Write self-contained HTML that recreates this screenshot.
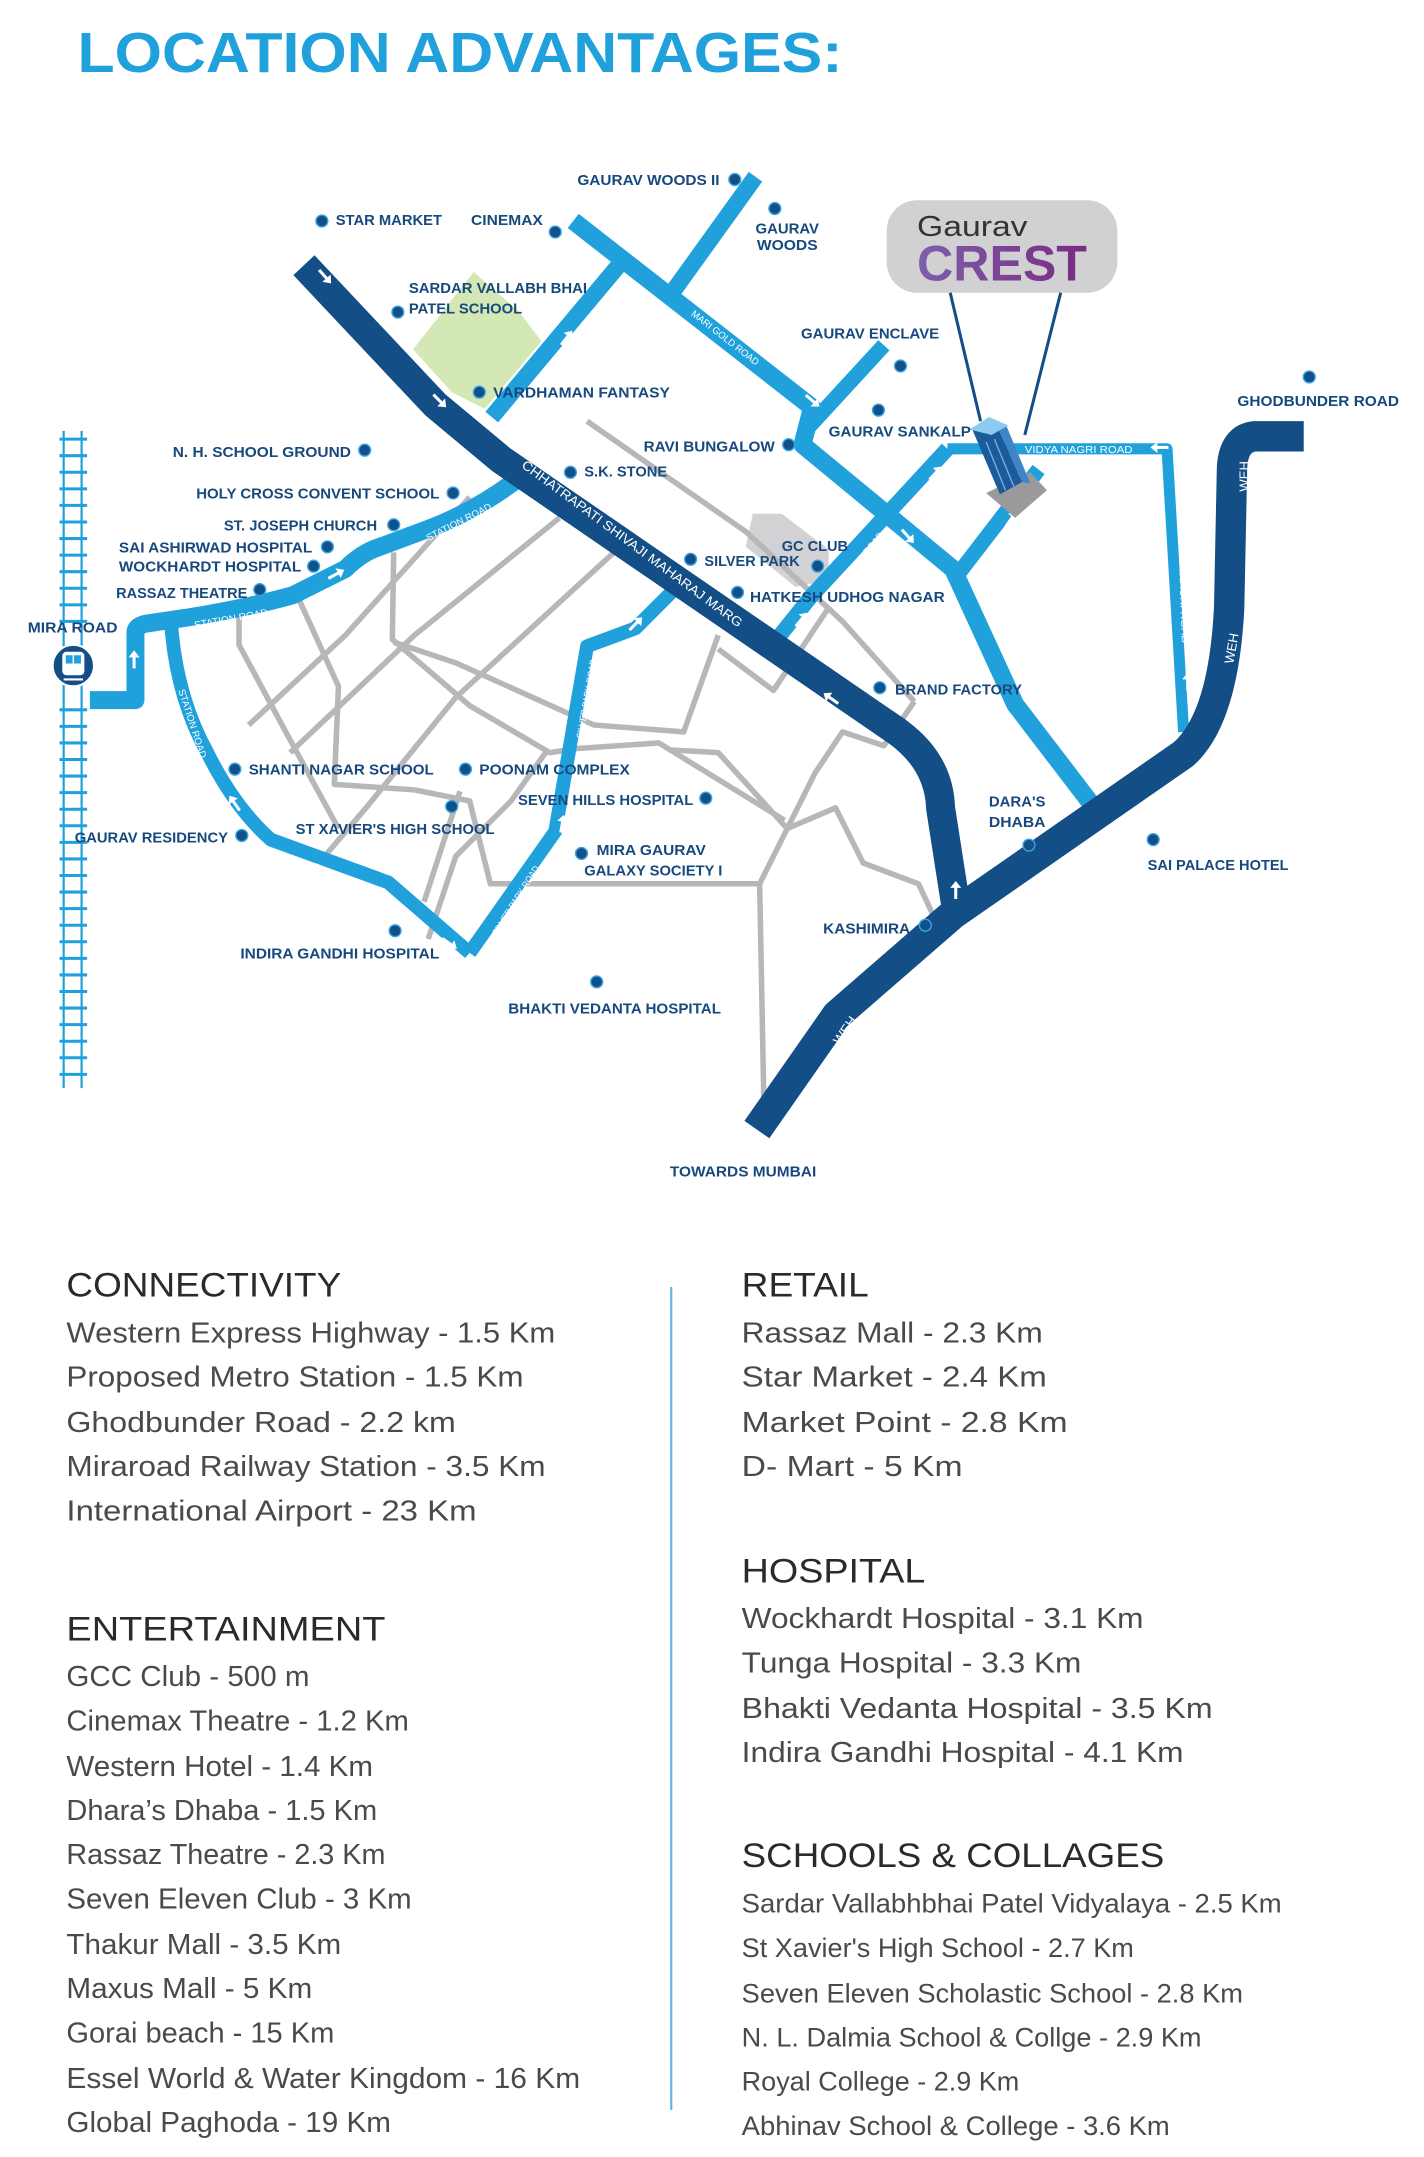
<!DOCTYPE html>
<html><head><meta charset="utf-8"><style>
html,body{margin:0;padding:0;background:#fff}
svg{display:block}
.lb{font-family:"Liberation Sans Narrow","Liberation Sans",sans-serif;font-weight:bold;font-size:11px;fill:#17497e}
.rl{font-family:"Liberation Sans",sans-serif;font-size:7px;fill:#fff}
.rd{font-family:"Liberation Sans",sans-serif;font-size:9.5px;fill:#fff}
.h{font-family:"Liberation Sans",sans-serif;font-size:25px;fill:#2a2a2a}
.t{font-family:"Liberation Sans",sans-serif;font-size:21px;fill:#4a4a4a}
.s{font-family:"Liberation Sans",sans-serif;font-size:19.5px;fill:#4a4a4a}
</style></head><body>
<svg width="1424" height="2157" viewBox="0 0 1031 1562" xmlns="http://www.w3.org/2000/svg">
<defs>
<linearGradient id="pg" x1="0" x2="1"><stop offset="0" stop-color="#7d5fab"/><stop offset="1" stop-color="#7a2a80"/></linearGradient>
<g id="ar"><path d="M-6,0 L3,0" stroke="#fff" stroke-width="2.2"/><path d="M2,-4 L7,0 L2,4 Z" fill="#fff"/></g>
</defs>
<text x="56" y="52" textLength="554" lengthAdjust="spacingAndGlyphs" style="font-family:'Liberation Sans',sans-serif;font-weight:bold;font-size:41px;fill:#21a1dc">LOCATION ADVANTAGES:</text>

<polygon points="299,253 343,197 376,226 392,247 351,296 327,284" fill="#d3e8b4"/>
<polygon points="545,372 566,372 600,398 600,420 576,425 540,396" fill="#d2d2d4"/>

<g fill="none" stroke="#b6b7b9" stroke-width="4" stroke-linejoin="round">
<path d="M425,305 L540,385 L610,450 L662,508"/>
<path d="M662,508 L640,540 L610,530 L590,560 L570,600 L550,640 L553,795"/>
<path d="M570,600 L605,585 L625,625 L665,640 L680,672"/>
<path d="M485,543 L520,545 L570,600"/>
<path d="M450,395 L330,505 L265,585 L235,620"/>
<path d="M405,375 L300,460 L210,545"/>
<path d="M340,360 L250,460 L180,525"/>
<path d="M520,460 L495,530 L430,525 L330,480 L285,465"/>
<path d="M285,400 L284,463 L340,511 L398,545 L418,542 L477,538 L568,594"/>
<path d="M215,431 L245,497 L242,568 L300,572"/>
<path d="M173,446 L173,467 L209,534 L245,600"/>
<path d="M300,572 L340,580 L355,640 L440,640 L550,640"/>
<path d="M333,573 L307,653"/>
<path d="M600,440 L560,500 L520,470"/>
<path d="M395,545 L370,580 L330,620 L310,680"/>
</g>

<g stroke="#21a1dc" stroke-width="1.6">
<line x1="46" y1="312" x2="46" y2="788"/><line x1="59" y1="312" x2="59" y2="788"/>
</g>
<path d="M43,318 H63 M43,330 H63 M43,342 H63 M43,354 H63 M43,366 H63 M43,378 H63 M43,390 H63 M43,402 H63 M43,414 H63 M43,426 H63 M43,438 H63 M43,450 H63 M43,514 H63 M43,526 H63 M43,538 H63 M43,550 H63 M43,562 H63 M43,574 H63 M43,586 H63 M43,598 H63 M43,610 H63 M43,622 H63 M43,634 H63 M43,646 H63 M43,658 H63 M43,670 H63 M43,682 H63 M43,694 H63 M43,706 H63 M43,718 H63 M43,730 H63 M43,742 H63 M43,754 H63 M43,766 H63 M43,778 H63" stroke="#21a1dc" stroke-width="2.2"/>

<g fill="none" stroke="#21a1dc" stroke-linejoin="round" stroke-linecap="butt">
<path d="M65,507 L98,507 L98,458 Q98,452 110,451 L137,447 Q180,440 212,431 L250,412 Q262,400 275,396 L310,383 Q345,370 380,343" stroke-width="13"/>
<path d="M356,302 L448,192" stroke-width="12"/>
<path d="M415,160 L588,295 L581,322 L690,412 L735,510 L800,595" stroke-width="13"/>
<path d="M547,128 L488,210" stroke-width="12"/>
<path d="M640,250 L583,312" stroke-width="11"/>
<path d="M686,325 L845,325 L857,530" stroke-width="8"/>
<path d="M560,466 L588,431 L686,325" stroke-width="11"/>
<path d="M752,340 L695,414" stroke-width="11"/>
<path d="M490,425 L460,455 L425,468 L402,602 L340,690" stroke-width="10"/>
<path d="M124,454 Q128,505 150,545 Q170,585 196,608 L281,639 L340,690" stroke-width="10"/>
</g>

<g fill="none" stroke="#134f86" stroke-linejoin="round">
<path d="M220,192 L315,293 L363,333 L650,530 Q680,552 681,585 L693,662" stroke-width="21"/>
<path d="M944,316 L908,316 Q892,318 892,342 L890,440 Q886,520 857,546 L690,662 L606,735 L548,818" stroke-width="22"/>
</g>

<use href="#ar" transform="translate(235,200) rotate(48)"/>
<use href="#ar" transform="translate(318,290) rotate(45)"/>
<use href="#ar" transform="translate(410,245) rotate(-52)"/>
<use href="#ar" transform="translate(588,290) rotate(40)"/>
<use href="#ar" transform="translate(243,416) rotate(-28)"/>
<use href="#ar" transform="translate(97,478) rotate(-90)"/>
<use href="#ar" transform="translate(677,343) rotate(-48)"/>
<use href="#ar" transform="translate(580,449) rotate(-50)"/>
<use href="#ar" transform="translate(732,376) rotate(-55)"/>
<use href="#ar" transform="translate(657,388) rotate(48)"/>
<use href="#ar" transform="translate(840,324) rotate(180)"/>
<use href="#ar" transform="translate(860,494) rotate(-90)"/>
<use href="#ar" transform="translate(602,506) rotate(-145)"/>
<use href="#ar" transform="translate(692,645) rotate(-90)"/>
<use href="#ar" transform="translate(460,452) rotate(-45)"/>
<use href="#ar" transform="translate(407,597) rotate(-80)"/>
<use href="#ar" transform="translate(170,582) rotate(-125)"/>
<use href="#ar" transform="translate(325,683) rotate(35)"/>

<text class="rd" transform="translate(377,338) rotate(36.5)" textLength="196" lengthAdjust="spacingAndGlyphs">CHHATRAPATI SHIVAJI MAHARAJ MARG</text>
<text class="rl" transform="translate(500,228) rotate(38)" textLength="60" lengthAdjust="spacingAndGlyphs">MARI GOLD ROAD</text>
<text class="rl" transform="translate(310,392) rotate(-27)" textLength="52" lengthAdjust="spacingAndGlyphs">STATION ROAD</text>
<text class="rl" transform="translate(141,455) rotate(-10)" textLength="54" lengthAdjust="spacingAndGlyphs">STATION ROAD</text>
<text class="rl" transform="translate(605,430) rotate(-50)" textLength="55" lengthAdjust="spacingAndGlyphs">GCC CLUB ROAD</text>
<text class="rl" transform="translate(742,328)" textLength="78" lengthAdjust="spacingAndGlyphs">VIDYA NAGRI ROAD</text>
<text class="rl" transform="translate(852,358) rotate(88)" textLength="108" lengthAdjust="spacingAndGlyphs">SHANTI VIDYA NAGRI ROAD</text>
<text class="rl" transform="translate(129,500) rotate(72)" textLength="52" lengthAdjust="spacingAndGlyphs">STATION ROAD</text>
<text class="rl" transform="translate(226,629) rotate(25)" textLength="54" lengthAdjust="spacingAndGlyphs">STATION ROAD</text>
<text class="rl" transform="translate(422,535) rotate(-80)" textLength="58" lengthAdjust="spacingAndGlyphs">SILVER PARK ROAD</text>
<text class="rl" transform="translate(360,678) rotate(-58)" textLength="58" lengthAdjust="spacingAndGlyphs">SILVER PARK ROAD</text>
<text class="rd" transform="translate(904,356) rotate(-90)" font-size="9">WEH</text>
<text class="rd" transform="translate(893,481) rotate(-80)" font-size="9">WEH</text>
<text class="rd" transform="translate(764,634) rotate(-35)" font-size="9">WEH</text>
<text class="rd" transform="translate(608,757) rotate(-55)" font-size="9">WEH</text>

<circle cx="53" cy="482" r="15" fill="#134f86" stroke="#fff" stroke-width="1.5"/>
<rect x="45" y="472" width="16" height="17" rx="3" fill="#fff"/>
<rect x="47.5" y="474.5" width="5" height="6" fill="#21a1dc"/><rect x="53.5" y="474.5" width="5" height="6" fill="#21a1dc"/>
<path d="M46,492 L60,492" stroke="#fff" stroke-width="1.5"/>

<rect x="642" y="145" width="167" height="67" rx="22" fill="#d1d1d3"/>
<text x="664" y="171" style="font-family:'Liberation Sans',sans-serif;font-size:21px;fill:#333" textLength="80" lengthAdjust="spacingAndGlyphs">Gaurav</text>
<text x="664" y="203" style="font-family:'Liberation Sans',sans-serif;font-weight:bold;font-size:36px;fill:url(#pg)" textLength="123" lengthAdjust="spacingAndGlyphs">CREST</text>
<path d="M688,212 L710,305 M768,212 L742,315" stroke="#134f86" stroke-width="2.2"/>

<polygon points="714,357 746,342 758,355 735,375" fill="#9a9a9c"/>
<polygon points="704,311 720,304 740,349 724,358" fill="#1d5a9a"/>
<polygon points="720,304 729,309 746,350 740,349" fill="#3f86c6"/>
<polygon points="702,311 716,302 730,308 718,315" fill="#8ccaf0"/>
<path d="M714,320 L728,355 M720,318 L734,352" stroke="#6fb2e6" stroke-width="1"/>

<g fill="#12508a" stroke="#3aa4e0" stroke-width="1">
<circle cx="532" cy="130" r="4.3"/><circle cx="233" cy="160" r="4.3"/><circle cx="402" cy="168" r="4.3"/>
<circle cx="561" cy="151" r="4.3"/><circle cx="288" cy="226" r="4.3"/><circle cx="652" cy="265" r="4.3"/>
<circle cx="347" cy="284" r="4.3"/><circle cx="948" cy="273" r="4.3"/><circle cx="636" cy="297" r="4.3"/>
<circle cx="571" cy="322" r="4.3"/><circle cx="264" cy="326" r="4.3"/><circle cx="413" cy="342" r="4.3"/>
<circle cx="328" cy="357" r="4.3"/><circle cx="285" cy="380" r="4.3"/><circle cx="237" cy="396" r="4.3"/>
<circle cx="227" cy="410" r="4.3"/><circle cx="188" cy="427" r="4.3"/><circle cx="592" cy="410" r="4.3"/>
<circle cx="500" cy="405" r="4.3"/><circle cx="534" cy="429" r="4.3"/><circle cx="637" cy="498" r="4.3"/>
<circle cx="170" cy="557" r="4.3"/><circle cx="337" cy="557" r="4.3"/><circle cx="511" cy="578" r="4.3"/>
<circle cx="327" cy="584" r="4.3"/><circle cx="175" cy="605" r="4.3"/><circle cx="835" cy="608" r="4.3"/>
<circle cx="745" cy="612" r="4.3"/>
<circle cx="421" cy="618" r="4.3"/><circle cx="670" cy="670" r="4.3"/><circle cx="286" cy="674" r="4.3"/>
<circle cx="432" cy="711" r="4.3"/>
</g>

<g class="lb">
<text x="418" y="134" textLength="103" lengthAdjust="spacingAndGlyphs">GAURAV WOODS II</text>
<text x="243" y="163" textLength="77" lengthAdjust="spacingAndGlyphs">STAR MARKET</text>
<text x="341" y="163" textLength="52" lengthAdjust="spacingAndGlyphs">CINEMAX</text>
<text x="547" y="169" textLength="46" lengthAdjust="spacingAndGlyphs">GAURAV</text>
<text x="548" y="181" textLength="44" lengthAdjust="spacingAndGlyphs">WOODS</text>
<text x="296" y="212" textLength="129" lengthAdjust="spacingAndGlyphs">SARDAR VALLABH BHAI</text>
<text x="296" y="227" textLength="82" lengthAdjust="spacingAndGlyphs">PATEL SCHOOL</text>
<text x="580" y="245" textLength="100" lengthAdjust="spacingAndGlyphs">GAURAV ENCLAVE</text>
<text x="357" y="288" textLength="128" lengthAdjust="spacingAndGlyphs">VARDHAMAN FANTASY</text>
<text x="896" y="294" textLength="117" lengthAdjust="spacingAndGlyphs">GHODBUNDER ROAD</text>
<text x="600" y="316" textLength="103" lengthAdjust="spacingAndGlyphs">GAURAV SANKALP</text>
<text x="466" y="327" textLength="95" lengthAdjust="spacingAndGlyphs">RAVI BUNGALOW</text>
<text x="125" y="331" textLength="129" lengthAdjust="spacingAndGlyphs">N. H. SCHOOL GROUND</text>
<text x="423" y="345" textLength="60" lengthAdjust="spacingAndGlyphs">S.K. STONE</text>
<text x="142" y="361" textLength="176" lengthAdjust="spacingAndGlyphs">HOLY CROSS CONVENT SCHOOL</text>
<text x="162" y="384" textLength="111" lengthAdjust="spacingAndGlyphs">ST. JOSEPH CHURCH</text>
<text x="86" y="400" textLength="140" lengthAdjust="spacingAndGlyphs">SAI ASHIRWAD HOSPITAL</text>
<text x="86" y="414" textLength="132" lengthAdjust="spacingAndGlyphs">WOCKHARDT HOSPITAL</text>
<text x="84" y="433" textLength="95" lengthAdjust="spacingAndGlyphs">RASSAZ THEATRE</text>
<text x="566" y="399" textLength="48" lengthAdjust="spacingAndGlyphs">GC CLUB</text>
<text x="510" y="410" textLength="69" lengthAdjust="spacingAndGlyphs">SILVER PARK</text>
<text x="543" y="436" textLength="141" lengthAdjust="spacingAndGlyphs">HATKESH UDHOG NAGAR</text>
<text x="20" y="458" textLength="65" lengthAdjust="spacingAndGlyphs">MIRA ROAD</text>
<text x="648" y="503" textLength="92" lengthAdjust="spacingAndGlyphs">BRAND FACTORY</text>
<text x="180" y="561" textLength="134" lengthAdjust="spacingAndGlyphs">SHANTI NAGAR SCHOOL</text>
<text x="347" y="561" textLength="109" lengthAdjust="spacingAndGlyphs">POONAM COMPLEX</text>
<text x="375" y="583" textLength="127" lengthAdjust="spacingAndGlyphs">SEVEN HILLS HOSPITAL</text>
<text x="716" y="584" textLength="41" lengthAdjust="spacingAndGlyphs">DARA'S</text>
<text x="716" y="599" textLength="41" lengthAdjust="spacingAndGlyphs">DHABA</text>
<text x="214" y="604" textLength="144" lengthAdjust="spacingAndGlyphs">ST XAVIER'S HIGH SCHOOL</text>
<text x="54" y="610" textLength="111" lengthAdjust="spacingAndGlyphs">GAURAV RESIDENCY</text>
<text x="831" y="630" textLength="102" lengthAdjust="spacingAndGlyphs">SAI PALACE HOTEL</text>
<text x="432" y="619" textLength="79" lengthAdjust="spacingAndGlyphs">MIRA GAURAV</text>
<text x="423" y="634" textLength="100" lengthAdjust="spacingAndGlyphs">GALAXY SOCIETY I</text>
<text x="596" y="676" textLength="63" lengthAdjust="spacingAndGlyphs">KASHIMIRA</text>
<text x="174" y="694" textLength="144" lengthAdjust="spacingAndGlyphs">INDIRA GANDHI HOSPITAL</text>
<text x="368" y="734" textLength="154" lengthAdjust="spacingAndGlyphs">BHAKTI VEDANTA HOSPITAL</text>
<text x="485" y="852" textLength="106" lengthAdjust="spacingAndGlyphs">TOWARDS MUMBAI</text>
</g>

<line x1="486" y1="932" x2="486" y2="1528" stroke="#5db4e4" stroke-width="1.5"/>

<text class="h" x="48" y="939" textLength="199" lengthAdjust="spacingAndGlyphs">CONNECTIVITY</text>
<text class="t" x="48" y="972" textLength="354" lengthAdjust="spacingAndGlyphs">Western Express Highway - 1.5 Km</text>
<text class="t" x="48" y="1004" textLength="331" lengthAdjust="spacingAndGlyphs">Proposed Metro Station - 1.5 Km</text>
<text class="t" x="48" y="1037" textLength="282" lengthAdjust="spacingAndGlyphs">Ghodbunder Road - 2.2 km</text>
<text class="t" x="48" y="1069" textLength="347" lengthAdjust="spacingAndGlyphs">Miraroad Railway Station - 3.5 Km</text>
<text class="t" x="48" y="1101" textLength="297" lengthAdjust="spacingAndGlyphs">International Airport - 23 Km</text>

<text class="h" x="48" y="1188" textLength="231" lengthAdjust="spacingAndGlyphs">ENTERTAINMENT</text>
<text class="t" x="48" y="1221" textLength="176" lengthAdjust="spacingAndGlyphs">GCC Club - 500 m</text>
<text class="t" x="48" y="1253" textLength="248" lengthAdjust="spacingAndGlyphs">Cinemax Theatre - 1.2 Km</text>
<text class="t" x="48" y="1286" textLength="222" lengthAdjust="spacingAndGlyphs">Western Hotel - 1.4 Km</text>
<text class="t" x="48" y="1318" textLength="225" lengthAdjust="spacingAndGlyphs">Dhara’s Dhaba - 1.5 Km</text>
<text class="t" x="48" y="1350" textLength="231" lengthAdjust="spacingAndGlyphs">Rassaz Theatre - 2.3 Km</text>
<text class="t" x="48" y="1382" textLength="250" lengthAdjust="spacingAndGlyphs">Seven Eleven Club - 3 Km</text>
<text class="t" x="48" y="1415" textLength="199" lengthAdjust="spacingAndGlyphs">Thakur Mall - 3.5 Km</text>
<text class="t" x="48" y="1447" textLength="178" lengthAdjust="spacingAndGlyphs">Maxus Mall - 5 Km</text>
<text class="t" x="48" y="1479" textLength="194" lengthAdjust="spacingAndGlyphs">Gorai beach - 15 Km</text>
<text class="t" x="48" y="1512" textLength="372" lengthAdjust="spacingAndGlyphs">Essel World &amp; Water Kingdom - 16 Km</text>
<text class="t" x="48" y="1544" textLength="235" lengthAdjust="spacingAndGlyphs">Global Paghoda - 19 Km</text>

<text class="h" x="537" y="939" textLength="92" lengthAdjust="spacingAndGlyphs">RETAIL</text>
<text class="t" x="537" y="972" textLength="218" lengthAdjust="spacingAndGlyphs">Rassaz Mall - 2.3 Km</text>
<text class="t" x="537" y="1004" textLength="221" lengthAdjust="spacingAndGlyphs">Star Market - 2.4 Km</text>
<text class="t" x="537" y="1037" textLength="236" lengthAdjust="spacingAndGlyphs">Market Point - 2.8 Km</text>
<text class="t" x="537" y="1069" textLength="160" lengthAdjust="spacingAndGlyphs">D- Mart - 5 Km</text>

<text class="h" x="537" y="1146" textLength="133" lengthAdjust="spacingAndGlyphs">HOSPITAL</text>
<text class="t" x="537" y="1179" textLength="291" lengthAdjust="spacingAndGlyphs">Wockhardt Hospital - 3.1 Km</text>
<text class="t" x="537" y="1211" textLength="246" lengthAdjust="spacingAndGlyphs">Tunga Hospital - 3.3 Km</text>
<text class="t" x="537" y="1244" textLength="341" lengthAdjust="spacingAndGlyphs">Bhakti Vedanta Hospital - 3.5 Km</text>
<text class="t" x="537" y="1276" textLength="320" lengthAdjust="spacingAndGlyphs">Indira Gandhi Hospital - 4.1 Km</text>

<text class="h" x="537" y="1352" textLength="306" lengthAdjust="spacingAndGlyphs">SCHOOLS &amp; COLLAGES</text>
<text class="s" x="537" y="1385" textLength="391" lengthAdjust="spacingAndGlyphs">Sardar Vallabhbhai Patel Vidyalaya - 2.5 Km</text>
<text class="s" x="537" y="1417" textLength="284" lengthAdjust="spacingAndGlyphs">St Xavier's High School - 2.7 Km</text>
<text class="s" x="537" y="1450" textLength="363" lengthAdjust="spacingAndGlyphs">Seven Eleven Scholastic School - 2.8 Km</text>
<text class="s" x="537" y="1482" textLength="333" lengthAdjust="spacingAndGlyphs">N. L. Dalmia School &amp; Collge - 2.9 Km</text>
<text class="s" x="537" y="1514" textLength="201" lengthAdjust="spacingAndGlyphs">Royal College - 2.9 Km</text>
<text class="s" x="537" y="1546" textLength="310" lengthAdjust="spacingAndGlyphs">Abhinav School &amp; College - 3.6 Km</text>
</svg>
</body></html>
